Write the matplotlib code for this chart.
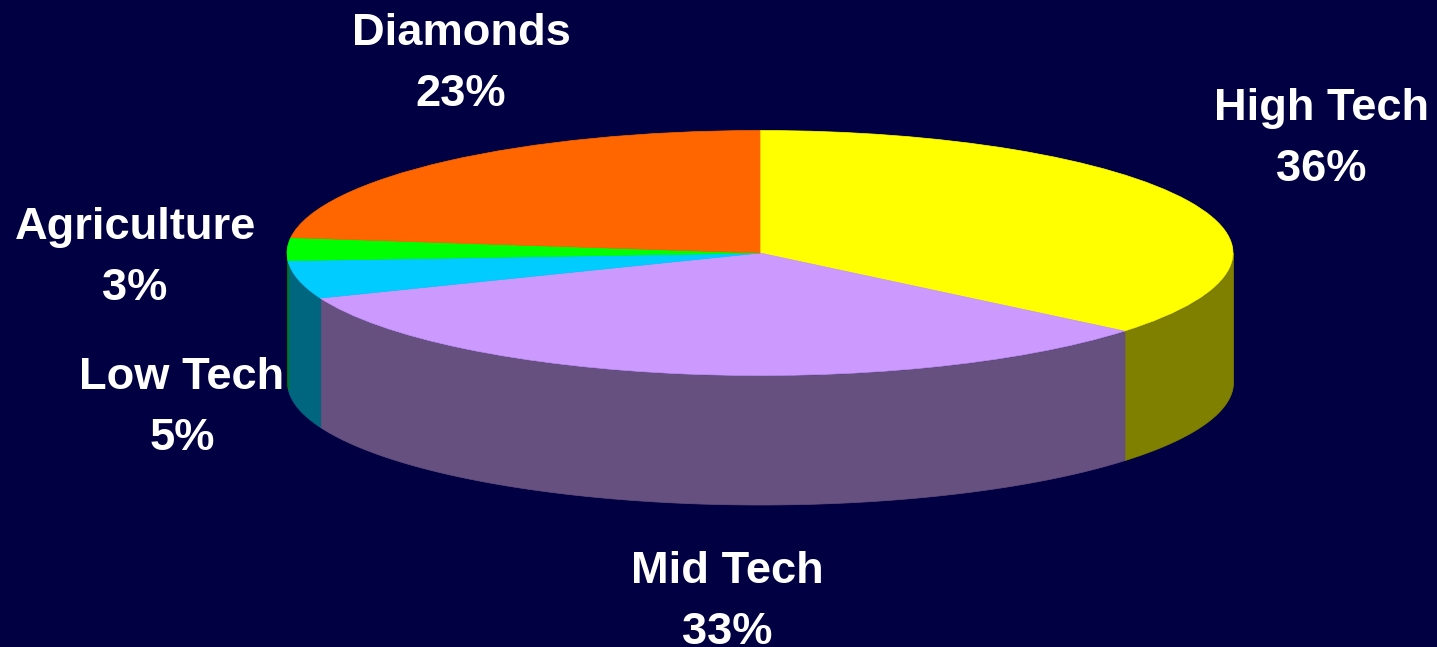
import numpy as np
import matplotlib
matplotlib.use('Agg')
import matplotlib.pyplot as plt

labels = ['High Tech', 'Mid Tech', 'Low Tech', 'Agriculture', 'Diamonds']
values = [36, 33, 5, 3, 23]
colors = ['#FFFF00', '#CC99FF', '#00CCFF', '#00FF00', '#FF6600']
side_colors = ['#808000', '#66507F', '#006680', '#008000', '#803300']
bg = '#000042'

W, H = 1437, 647
cx, cy, rx, ry, depth = 760, 253, 473, 122.5, 129

fig = plt.figure(figsize=(W / 100, H / 100), dpi=100, facecolor=bg)
ax = fig.add_axes([0, 0, 1, 1])
ax.set_facecolor(bg)

# side wall, only the front half (sin < 0) can be seen
depth_u = depth / ry
angle = 90.0
for v, c in zip(values, side_colors):
    a1 = angle - v * 3.6
    lo, hi = max(a1, -180), min(angle, 0)
    if hi > lo:
        t = np.radians(np.linspace(lo, hi, 100))
        ax.fill_between(np.cos(t), np.sin(t), np.sin(t) - depth_u, color=c, lw=0.5, zorder=1)
    angle = a1

wedges, _ = ax.pie(values, colors=colors, startangle=90, counterclock=False, radius=1, frame=True)
for w, c in zip(wedges, colors):
    w.set_edgecolor(c)
    w.set_linewidth(0.5)
    w.set_zorder(2)

# circle units get squashed into an ellipse by the limits
ax.set_aspect('auto')
ax.set_xlim(-cx / rx, (W - cx) / rx)
ax.set_ylim((cy - H) / ry, cy / ry)
ax.set_axis_off()

# label centres in pixels
label_pos = [(1321, 139), (727, 602), (182, 408), (135, 258), (461, 64)]
for name, v, (px, py) in zip(labels, values, label_pos):
    ax.text((px - cx) / rx, (cy - py) / ry, f'{name}\n{v}%', color='white',
            fontsize=32.6, fontweight='bold', family='Liberation Sans',
            ha='center', va='center', linespacing=1.62, zorder=3)

fig.savefig('out.png', dpi=100, facecolor=bg)
